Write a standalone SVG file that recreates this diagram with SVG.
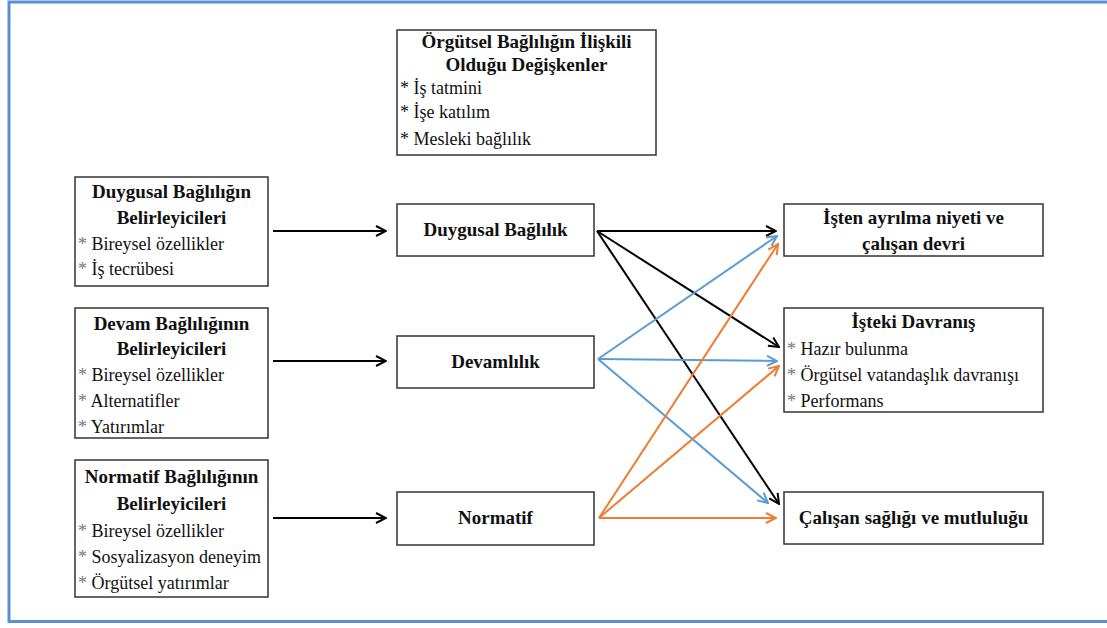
<svg xmlns="http://www.w3.org/2000/svg" width="1107" height="628" viewBox="0 0 1107 628" font-family="Liberation Serif, Times New Roman, DejaVu Serif, serif">
<style>
.box{fill:#fff;stroke:#333;stroke-width:1.5}
.t{font-family:'Liberation Serif','Times New Roman','DejaVu Serif',serif;font-weight:bold;font-size:19px;fill:#111;text-anchor:middle}
.i{font-family:'Liberation Serif','Times New Roman','DejaVu Serif',serif;font-size:18px;fill:#111}
.a{fill:#777}
.k{fill:none;stroke:#000;stroke-width:2}
.b{fill:none;stroke:#5b9bd5;stroke-width:2}
.o{fill:none;stroke:#ed7d31;stroke-width:2}
</style>
<defs>
<marker id="mk" viewBox="0 0 12 12" refX="11" refY="6" markerWidth="12" markerHeight="12" markerUnits="userSpaceOnUse" orient="auto"><path d="M1,1 L11,6 L1,11" fill="none" stroke="#000" stroke-width="2"/></marker>
<marker id="mb" viewBox="0 0 12 12" refX="11" refY="6" markerWidth="12" markerHeight="12" markerUnits="userSpaceOnUse" orient="auto"><path d="M1,1 L11,6 L1,11" fill="none" stroke="#5b9bd5" stroke-width="2"/></marker>
<marker id="mo" viewBox="0 0 12 12" refX="11" refY="6" markerWidth="12" markerHeight="12" markerUnits="userSpaceOnUse" orient="auto"><path d="M1,1 L11,6 L1,11" fill="none" stroke="#ed7d31" stroke-width="2"/></marker>
</defs>
<rect x="0" y="0" width="1107" height="628" fill="#fff"/>
<rect x="9" y="2" width="1120" height="619.5" fill="none" stroke="#5b8fd0" stroke-width="3"/>

<g id="top">
<rect class="box" x="397" y="30" width="259" height="125"/>
<text class="t" x="526.5" y="48">Örgütsel Bağlılığın İlişkili</text>
<text class="t" x="526.5" y="71">Olduğu Değişkenler</text>
<text class="i" x="400" y="94">* İş tatmini</text>
<text class="i" x="400" y="118">* İşe katılım</text>
<text class="i" x="400" y="145">* Mesleki bağlılık</text>
</g>

<g id="det1">
<rect class="box" x="75" y="177" width="193" height="109"/>
<text class="t" x="171.5" y="198">Duygusal Bağlılığın</text>
<text class="t" x="171.5" y="224">Belirleyicileri</text>
<text class="i" x="78" y="250"><tspan class="a">*</tspan> Bireysel özellikler</text>
<text class="i" x="78" y="275"><tspan class="a">*</tspan> İş tecrübesi</text>
</g>

<g id="det2">
<rect class="box" x="75" y="308" width="193" height="130"/>
<text class="t" x="171.5" y="330">Devam Bağlılığının</text>
<text class="t" x="171.5" y="355">Belirleyicileri</text>
<text class="i" x="78" y="381"><tspan class="a">*</tspan> Bireysel özellikler</text>
<text class="i" x="78" y="407"><tspan class="a">*</tspan> Alternatifler</text>
<text class="i" x="78" y="433"><tspan class="a">*</tspan> Yatırımlar</text>
</g>

<g id="det3">
<rect class="box" x="75" y="460" width="193" height="137"/>
<text class="t" x="171.5" y="483">Normatif Bağlılığının</text>
<text class="t" x="171.5" y="510">Belirleyicileri</text>
<text class="i" x="78" y="537"><tspan class="a">*</tspan> Bireysel özellikler</text>
<text class="i" x="78" y="563"><tspan class="a">*</tspan> Sosyalizasyon deneyim</text>
<text class="i" x="78" y="589"><tspan class="a">*</tspan> Örgütsel yatırımlar</text>
</g>

<g id="duygusal">
<rect class="box" x="397" y="204" width="197" height="52"/>
<text class="t" x="495.5" y="236">Duygusal Bağlılık</text>
</g>
<g id="devam">
<rect class="box" x="397" y="336" width="197" height="52"/>
<text class="t" x="495.5" y="368">Devamlılık</text>
</g>
<g id="normatif">
<rect class="box" x="397" y="492" width="197" height="53"/>
<text class="t" x="495.5" y="524">Normatif</text>
</g>

<g id="isten">
<rect class="box" x="784" y="204" width="259" height="52"/>
<text class="t" x="913.5" y="224">İşten ayrılma niyeti ve</text>
<text class="t" x="913.5" y="250">çalışan devri</text>
</g>
<g id="davranis">
<rect class="box" x="784" y="308" width="259" height="104"/>
<text class="t" x="913.5" y="328">İşteki Davranış</text>
<text class="i" x="787" y="355"><tspan class="a">*</tspan> Hazır bulunma</text>
<text class="i" x="787" y="381"><tspan class="a">*</tspan> Örgütsel vatandaşlık davranışı</text>
<text class="i" x="787" y="407"><tspan class="a">*</tspan> Performans</text>
</g>
<g id="saglik">
<rect class="box" x="784" y="492" width="259" height="52"/>
<text class="t" x="913.5" y="524">Çalışan sağlığı ve mutluluğu</text>
</g>

<g id="connectors">
<line class="k" x1="273" y1="231" x2="386" y2="231" marker-end="url(#mk)"/>
<line class="k" x1="273" y1="361" x2="386" y2="361" marker-end="url(#mk)"/>
<line class="k" x1="273" y1="518" x2="386" y2="518" marker-end="url(#mk)"/>
<line class="k" x1="597" y1="231" x2="776" y2="231" marker-end="url(#mk)"/>
<line class="k" x1="597" y1="231" x2="779" y2="347" marker-end="url(#mk)"/>
<line class="k" x1="597" y1="231" x2="779" y2="504" marker-end="url(#mk)"/>
<line class="b" x1="598" y1="359" x2="777" y2="236" marker-end="url(#mb)"/>
<line class="b" x1="598" y1="359" x2="777" y2="361" marker-end="url(#mb)"/>
<line class="b" x1="598" y1="359" x2="768" y2="503" marker-end="url(#mb)"/>
<line class="o" x1="599" y1="518" x2="778" y2="244" marker-end="url(#mo)"/>
<line class="o" x1="599" y1="518" x2="779" y2="366" marker-end="url(#mo)"/>
<line class="o" x1="599" y1="518" x2="776" y2="518" marker-end="url(#mo)"/>
</g>
</svg>
